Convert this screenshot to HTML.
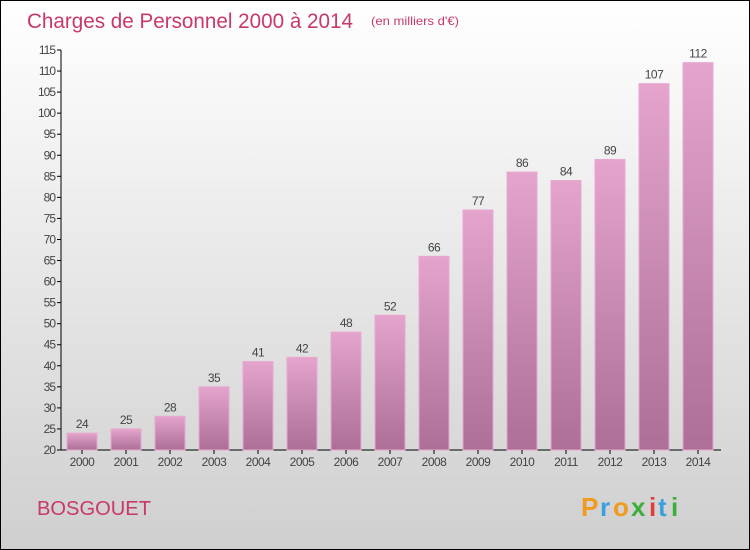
<!DOCTYPE html>
<html><head><meta charset="utf-8"><style>
body{margin:0}
#c{width:748px;height:548px;border:1px solid #000;background:linear-gradient(#fff,#cfcfcf);position:relative;font-family:"Liberation Sans",sans-serif;overflow:hidden}
</style></head><body>
<div id="c">
<svg id="s" width="748" height="548" xmlns="http://www.w3.org/2000/svg">
<defs><linearGradient id="g" x1="0" y1="0" x2="0" y2="1"><stop offset="0" stop-color="#e4a4cc"/><stop offset="1" stop-color="#ad6f96"/></linearGradient></defs>
<text x="26" y="27" font-size="21" fill="#c8386c" textLength="326" lengthAdjust="spacingAndGlyphs">Charges de Personnel 2000 à 2014</text>
<text x="370" y="24" font-size="12" fill="#c8386c" textLength="88" lengthAdjust="spacingAndGlyphs">(en milliers d'€)</text>
<text x="36" y="514" font-size="20" fill="#c8386c" textLength="114" lengthAdjust="spacingAndGlyphs">BOSGOUET</text>
<g font-size="26" font-weight="bold">
<text x="580" y="515" fill="#f29a1c">P</text><text x="599" y="515" fill="#39a0dc">r</text><text x="612" y="515" fill="#f29a1c">o</text><text x="630" y="515" fill="#3cae3c">x</text><text x="648" y="515" fill="#e03c3c">i</text><text x="657" y="515" fill="#39a0dc">t</text><text x="670" y="515" fill="#3cae3c">i</text>
</g>
<g id="plot"></g>
</svg></div>
<script>
const years=["2000","2001","2002","2003","2004","2005","2006","2007","2008","2009","2010","2011","2012","2013","2014"];
const values=[24,25,28,35,41,42,48,52,66,77,86,84,89,107,112];
const yTicks=[20,25,30,35,40,45,50,55,60,65,70,75,80,85,90,95,100,105,110,115];
const NS="http://www.w3.org/2000/svg";
const g=document.getElementById('plot');
const y0=449,yMin=20,yMax=115,yTop=49;
const yS=v=>y0-(v-yMin)/(yMax-yMin)*(y0-yTop);
const xS=i=>66+i*44;
function mk(t,a){const e=document.createElementNS(NS,t);for(const k in a)e.setAttribute(k,a[k]);g.appendChild(e);return e;}
let ax=mk('line',{x1:60,y1:yTop,x2:60,y2:y0,stroke:'#000'});


let bx=mk('line',{x1:60,y1:y0,x2:720,y2:y0,stroke:'#000'});


yTicks.forEach(v=>{const y=yS(v);
 mk('line',{x1:56,y1:y,x2:60,y2:y,stroke:'#000'});
 const t=mk('text',{x:54,y:y+4,'font-size':12,fill:'#444','text-anchor':'end','letter-spacing':'-1'});t.textContent=v;
 
 
});
years.forEach((yr,i)=>{const x=xS(i),v=values[i],top=yS(v);
 const r=mk('rect',{x:x,y:top,width:30,height:y0-top,fill:'url(#g)',stroke:'#e8a8d0','stroke-width':1});
 
 
 const l=mk('text',{x:x+15,y:top-5,'font-size':12,fill:'#444','text-anchor':'middle','letter-spacing':'-0.5'});l.textContent=v;
 
 
 mk('line',{x1:x+15,y1:y0,x2:x+15,y2:y0+4,stroke:'#000'});
 const t=mk('text',{x:x+15,y:y0+16,'font-size':12,fill:'#444','text-anchor':'middle','letter-spacing':'-0.5'});t.textContent=yr;
 
 
});
</script>
</body></html>
